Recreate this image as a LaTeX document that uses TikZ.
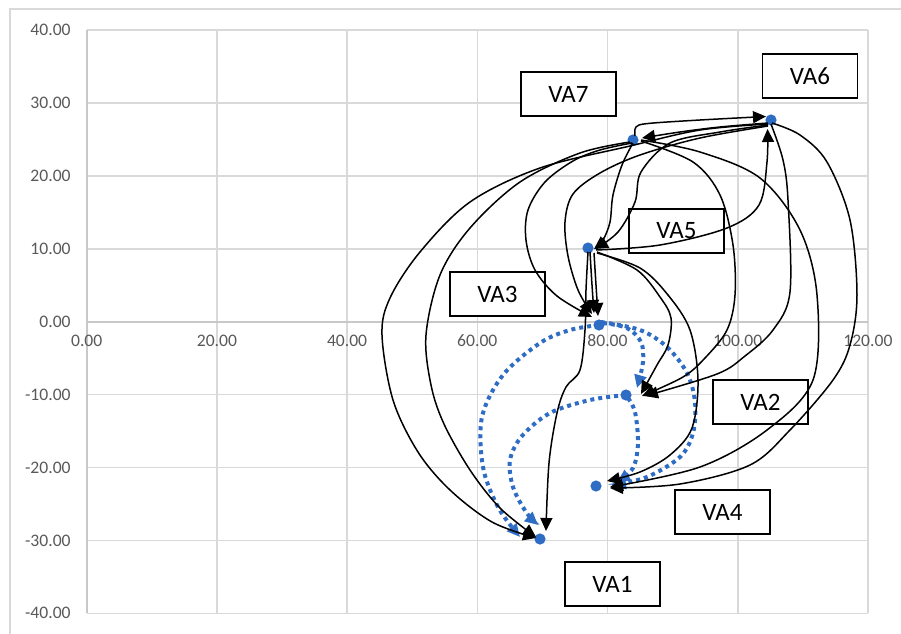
\documentclass[tikz,border=0pt]{standalone}
\usepackage{fontspec}
\setmainfont{Carlito}
\usetikzlibrary{arrows.meta}
\definecolor{gridc}{RGB}{217,217,217}
\definecolor{axisc}{RGB}{200,200,200}
\definecolor{labc}{RGB}{89,89,89}
\definecolor{dotblue}{RGB}{47,108,196}
\begin{document}
\begin{tikzpicture}[x=0.5pt,y=-0.5pt,
  gridl/.style={draw=gridc, line width=0.8pt},
  axl/.style={draw=axisc, line width=0.9pt},
  ylab/.style={anchor=east, text=labc, font=\fontsize{8.8}{10}\selectfont, inner sep=0pt},
  xlab/.style={anchor=center, text=labc, font=\fontsize{8.8}{10}\selectfont, inner sep=0pt},
  vabox/.style={draw=black, fill=white, line width=0.8pt, minimum width=47.5pt, minimum height=22pt, inner sep=0pt, font=\fontsize{12.5}{14}\selectfont},
  blk/.style={draw=black, line width=0.75pt, -{Triangle[length=6.5pt,width=6pt]}},
  bdot/.style={draw=dotblue, line width=2pt, dash pattern=on 2pt off 2pt, -{Triangle[length=6.5pt,width=6pt,fill=dotblue]}},
  smoothp/.style={smooth, tension=0.55}]
\useasboundingbox (0,0) rectangle (901,633);
% outer chart border
\draw[gridc, line width=0.8pt] (10,640) -- (10,9) -- (910,9);
% grid
\foreach \yy in {30.1,103.0,175.9,248.8,394.6,467.5,540.4,613.3}
  \draw[gridl] (86.7,\yy) -- (867.9,\yy);
\foreach \xx in {216.9,347.1,477.3,607.5,737.7,867.9}
  \draw[gridl] (\xx,30.1) -- (\xx,613.3);
\draw[axl] (86.7,30.1) -- (86.7,613.3);
\draw[axl] (86.7,321.7) -- (867.9,321.7);
% y labels
\foreach \yy/\tt in {30.1/40.00,103.0/30.00,175.9/20.00,248.8/10.00,321.7/0.00,394.6/-10.00,467.5/-20.00,540.4/-30.00,613.3/-40.00}
  \node[ylab] at (71,\yy) {\tt};
% x labels
\foreach \xx/\tt in {86.7/0.00,216.9/20.00,347.1/40.00,477.3/60.00,607.5/80.00,737.7/100.00,867.9/120.00}
  \node[xlab] at (\xx,341) {\tt};
% label boxes
\node[vabox] (b7) at (568.5,94) {VA7};
\node[vabox] (b6) at (810,76) {VA6};
\node[vabox] (b5) at (676.5,231) {VA5};
\node[vabox] (b3) at (497.5,294) {VA3};
\node[vabox] (b2) at (760.5,402) {VA2};
\node[vabox] (b4) at (722.5,512) {VA4};
\node[vabox] (b1) at (612.5,584) {VA1};
% points
\coordinate (va6) at (771,120);
\coordinate (va7) at (633,140);
\coordinate (va5) at (588,248);
\coordinate (va3) at (599,325);
\coordinate (va2) at (626,395);
\coordinate (va4) at (596,486);
\coordinate (va1) at (540,539);
\foreach \p in {va6,va7,va5,va3,va2,va4,va1}
  \fill[dotblue] (\p) circle[radius=2.8pt];
% blue dotted connectors
\draw[bdot] plot[smoothp] coordinates {(va3) (570,330) (540,343) (503,375) (482,417) (483,467) (498,507) (520,537)};
\draw[bdot] plot[smoothp] coordinates {(603,323) (627,328) (641,342) (643,362) (637,388)};
\draw[bdot] plot[smoothp] coordinates {(601,322) (640,330) (667,347) (687,373) (695,402) (693,433) (680,457) (647,477) (613,485)};
\draw[bdot] plot[smoothp] coordinates {(va2) (590,400) (550,413) (522,436) (510,460) (513,487) (526,512) (538,525)};
\draw[bdot] plot[smoothp] coordinates {(628,398) (635,412) (638,443) (633,468) (617,482)};
% black connectors
% VA7 -> VA6
\draw[blk] plot[smoothp] coordinates {(635,136) (636,127) (648,123.5) (700,120) (766,116.5)};
% VA6 -> VA7
\draw[blk] plot[smoothp] coordinates {(768,123) (720,127) (680,132) (642,138)};
% VA6 -> VA1 (outer loop)
\draw[blk] plot[smoothp] coordinates {(768,124) (700,130) (630,146) (540,168) (470,202) (420,252) (390,298) (382,335) (393,400) (418,452) (450,490) (492,522) (536,538)};
% VA7 -> VA1 (inner loop)
\draw[blk] plot[smoothp] coordinates {(630,142) (580,153) (520,182) (470,228) (440,275) (426,335) (431,385) (444,424) (470,470) (500,508) (536,537)};
% VA7 -> VA3
\draw[blk] plot[smoothp] coordinates {(632,143) (600,150) (573,161) (545,182) (528,210) (526,240) (535,270) (557,296) (592,317)};
% VA6 -> VA3
\draw[blk] plot[smoothp] coordinates {(768,126) (700,138) (640,155) (600,173) (573,194) (565,222) (568,256) (578,290) (592,314)};
% VA5 -> VA3
\draw[blk] plot[smoothp] coordinates {(590,252) (592,285) (594,313)};
\draw[blk] plot[smoothp] coordinates {(594,253) (596,285) (598,316)};
% VA7 -> VA5
\draw[blk] plot[smoothp] coordinates {(633,143) (622,165) (613,195) (610,222) (603,240) (594,249)};
% VA6 -> VA5
\draw[blk] plot[smoothp] coordinates {(768,125) (720,132) (670,143) (641,172) (635,202) (618,232) (595,249)};
% VA5 -> VA6
\draw[blk] plot[smoothp] coordinates {(596,250) (660,245) (727,228) (759,205) (767,162) (767.5,129)};
% VA5 -> VA2
\draw[blk] plot[smoothp] coordinates {(597,252) (637,270) (660,297) (671,318) (668,345) (657,365) (641,394)};
% VA5 -> VA4
\draw[blk] plot[smoothp] coordinates {(597,253) (640,268) (668,295) (690,330) (698,380) (692,428) (670,455) (640,472) (607,481)};
% VA7 -> VA2
\draw[blk] plot[smoothp] coordinates {(641,141) (693,162) (720,195) (733,245) (735,295) (727,330) (705,358) (683,377) (642,396)};
% VA6 -> VA2
\draw[blk] plot[smoothp] coordinates {(771,124) (783,160) (788,200) (790,292) (773,330) (745,356) (717,374) (645,396)};
% VA7 -> VA4
\draw[blk] plot[smoothp] coordinates {(641,140) (700,152) (760,178) (800,230) (817,295) (813,380) (767,430) (700,467) (610,487)};
% VA6 -> VA4
\draw[blk] plot[smoothp] coordinates {(772,123) (800,135) (827,162) (850,220) (857,295) (850,345) (833,380) (790,430) (750,465) (680,484) (610,488)};
% VA5 -> VA1
\draw[blk] plot[smoothp] coordinates {(588,252) (586,290) (585,330) (580,370) (566,387) (557,413) (549,463) (546,531)};
\end{tikzpicture}
\end{document}
